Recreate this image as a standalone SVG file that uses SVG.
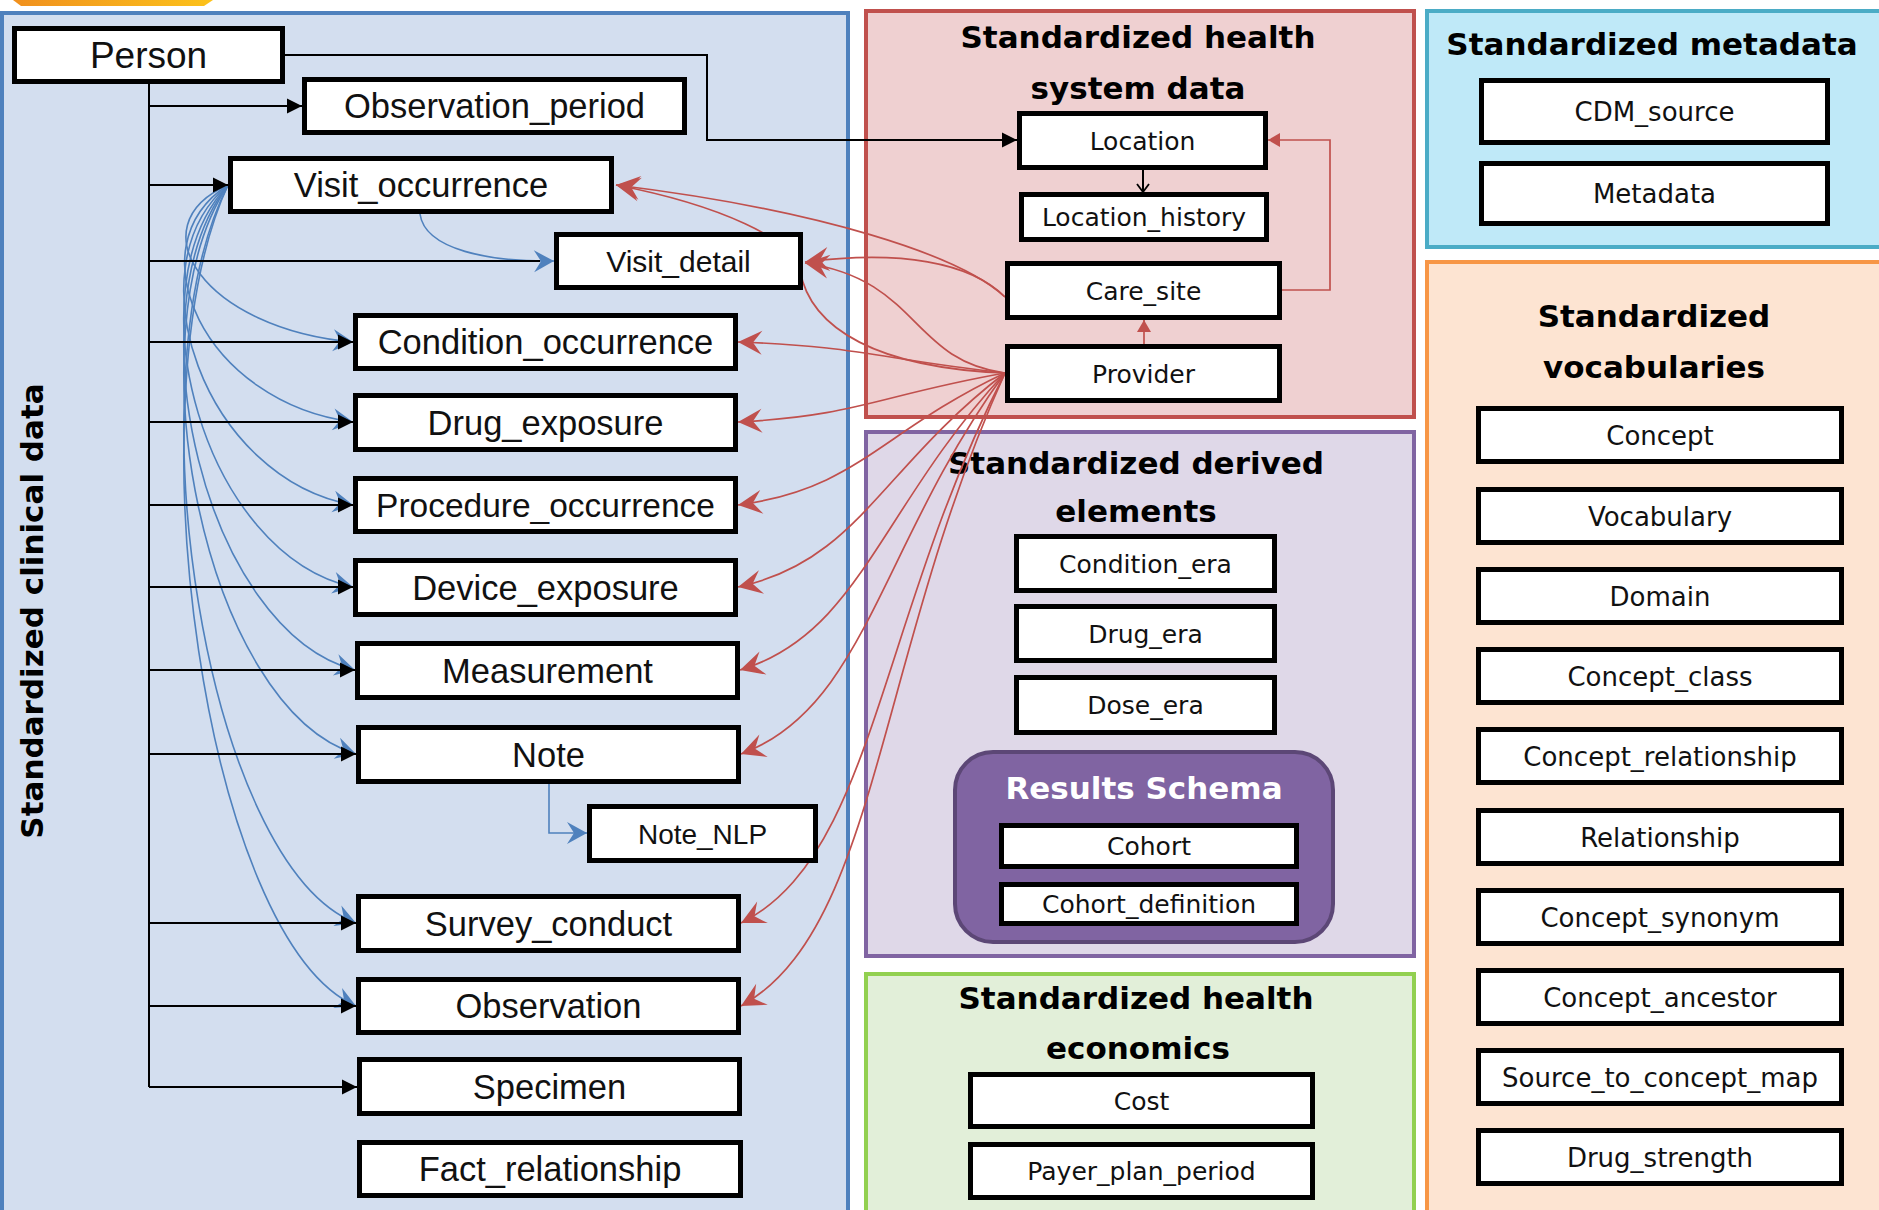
<svg xmlns="http://www.w3.org/2000/svg" width="1879" height="1210" viewBox="0 0 1879 1210">
<style>
.box{fill:#fff;stroke:#000;stroke-width:5}
.tc{font-family:'Liberation Sans',Arial,sans-serif;font-size:34.5px;text-anchor:middle;fill:#111}
.tr{font-family:'DejaVu Sans',Verdana,sans-serif;font-size:25px;text-anchor:middle;fill:#111}
.tv{font-family:'DejaVu Sans',Verdana,sans-serif;font-size:26px;text-anchor:middle;fill:#111}
.title{font-family:'DejaVu Sans',Verdana,sans-serif;font-weight:bold;font-size:31px;text-anchor:middle;fill:#000}
.blk{fill:none;stroke:#000;stroke-width:2}
.blu{fill:none;stroke:#4f81bd;stroke-width:1.6}
.red{fill:none;stroke:#c0504d;stroke-width:1.7}
</style>
<defs>
<linearGradient id="og" x1="0" y1="0" x2="1" y2="0">
<stop offset="0" stop-color="#f0901e"/><stop offset="1" stop-color="#fcc21b"/>
</linearGradient>
<marker id="aK" markerUnits="userSpaceOnUse" viewBox="-17 -9 18 18" markerWidth="18" markerHeight="18" refX="0" refY="0" orient="auto">
<path d="M0,0 L-15,-7.5 L-15,7.5 Z" fill="#000"/>
</marker>
<marker id="aO" markerUnits="userSpaceOnUse" viewBox="-11 -8 12 16" markerWidth="12" markerHeight="16" refX="0" refY="0" orient="auto">
<path d="M-8,-6 L0,0 L-8,6" fill="none" stroke="#000" stroke-width="1.8"/>
</marker>
<marker id="aR" markerUnits="userSpaceOnUse" viewBox="-26 -13 28 26" markerWidth="28" markerHeight="26" refX="0" refY="0" orient="auto">
<path d="M0,0 L-24,-12 L-15,0 L-24,12 Z" fill="#c0504d"/>
</marker>
<marker id="aRt" markerUnits="userSpaceOnUse" viewBox="-14 -8 15 16" markerWidth="15" markerHeight="16" refX="0" refY="0" orient="auto">
<path d="M0,0 L-12,-7 L-12,7 Z" fill="#c0504d"/>
</marker>
<marker id="aB" markerUnits="userSpaceOnUse" viewBox="-22 -12 24 24" markerWidth="24" markerHeight="24" refX="0" refY="0" orient="auto">
<path d="M0,0 L-20,-11 L-13,0 L-20,11 Z" fill="#4f81bd"/>
</marker>
</defs>
<rect width="1879" height="1210" fill="#fff"/>
<polygon points="13,0 213,0 204,6 21,6" fill="url(#og)"/>

<g id="panels">
<rect id="p-clinical" x="2" y="13" width="846" height="1210" fill="#d3deef" stroke="#4f81bd" stroke-width="4"/>
<rect id="p-health" x="866" y="11" width="548" height="406" fill="#efd0d1" stroke="#c0504d" stroke-width="4"/>
<rect id="p-derived" x="866" y="432" width="548" height="524" fill="#dfd8e8" stroke="#8064a2" stroke-width="4"/>
<rect id="p-econ" x="866" y="974" width="548" height="250" fill="#e2efd9" stroke="#92d050" stroke-width="4"/>
<rect id="p-meta" x="1427" y="11" width="460" height="236" fill="#bfe9f8" stroke="#4bacc6" stroke-width="4"/>
<rect id="p-vocab" x="1427" y="262" width="460" height="960" fill="#fde4d2" stroke="#f79646" stroke-width="4"/>
<text class="title" transform="translate(43,611) rotate(-90)">Standardized clinical data</text>
<text class="title" x="1138" y="48">Standardized health</text>
<text class="title" x="1138" y="99">system data</text>
<text class="title" x="1652" y="55">Standardized metadata</text>
<text class="title" x="1654" y="327">Standardized</text>
<text class="title" x="1654" y="378">vocabularies</text>
<text class="title" x="1136" y="474">Standardized derived</text>
<text class="title" x="1136" y="522">elements</text>
<text class="title" x="1136" y="1009">Standardized health</text>
<text class="title" x="1138" y="1059">economics</text>
<rect id="p-results" x="955" y="752" width="378" height="190" rx="38" fill="#8064a2" stroke="#5c4776" stroke-width="4"/>
<text class="title" x="1144" y="799" style="fill:#fff">Results Schema</text>
</g>

<g id="connectors">
<!-- blue: Visit_occurrence to events -->
<path class="blu" marker-end="url(#aB)" d="M228,185 C135,226 205,329 353,342"/>
<path class="blu" marker-end="url(#aB)" d="M228,185 C132,247 205,403 353,422"/>
<path class="blu" marker-end="url(#aB)" d="M228,185 C130,268 205,479 353,505"/>
<path class="blu" marker-end="url(#aB)" d="M228,185 C130,290 205,555 353,587"/>
<path class="blu" marker-end="url(#aB)" d="M228,185 C130,311 205,631 355,670"/>
<path class="blu" marker-end="url(#aB)" d="M228,185 C130,333 205,708 356,754"/>
<path class="blu" marker-end="url(#aB)" d="M228,185 C130,377 205,864 356,923"/>
<path class="blu" marker-end="url(#aB)" d="M228,185 C130,398 205,940 356,1006"/>
<path class="blu" marker-end="url(#aB)" d="M420,214 C425,250 490,262 554,261"/>
<path class="blu" marker-end="url(#aB)" d="M549,784 V833 H587"/>
<!-- black: Person trunk -->
<path class="blk" d="M149,84 V1087"/>
<path class="blk" marker-end="url(#aK)" d="M149,106 H302"/>
<path class="blk" marker-end="url(#aK)" d="M149,185 H228"/>
<path class="blk" d="M149,261 H540"/>
<path class="blk" marker-end="url(#aK)" d="M149,342 H353"/>
<path class="blk" marker-end="url(#aK)" d="M149,422 H353"/>
<path class="blk" marker-end="url(#aK)" d="M149,505 H353"/>
<path class="blk" marker-end="url(#aK)" d="M149,587 H353"/>
<path class="blk" marker-end="url(#aK)" d="M149,670 H355"/>
<path class="blk" marker-end="url(#aK)" d="M149,754 H356"/>
<path class="blk" marker-end="url(#aK)" d="M149,923 H356"/>
<path class="blk" marker-end="url(#aK)" d="M149,1006 H356"/>
<path class="blk" marker-end="url(#aK)" d="M149,1087 H357"/>
<path class="blk" marker-end="url(#aK)" d="M285,55 H707 V140 H1017"/>
<path class="blk" marker-end="url(#aO)" d="M1143,170 V192"/>
<!-- red: health system -->
<path class="red" marker-end="url(#aRt)" d="M1144,344 V320"/>
<path class="red" marker-end="url(#aRt)" d="M1282,290 H1330 V140 H1268"/>
<path class="red" marker-end="url(#aR)" d="M1005,297 C960,255 820,210 616,185"/>
<path class="red" marker-end="url(#aR)" d="M1005,297 C970,262 900,250 805,262"/>
<path class="red" marker-end="url(#aR)" d="M1005,373 C910,360 920,280 805,263"/>
<path class="red" marker-end="url(#aR)" d="M1005,373 C880,368 810,330 800,270 C795,240 720,205 616,185"/>
<path class="red" marker-end="url(#aR)" d="M1005,373 C880,359 858,346 738,342"/>
<path class="red" marker-end="url(#aR)" d="M1005,373 C880,395 858,416 738,422"/>
<path class="red" marker-end="url(#aR)" d="M1005,373 C880,432 858,489 738,505"/>
<path class="red" marker-end="url(#aR)" d="M1005,373 C880,469 858,561 738,587"/>
<path class="red" marker-end="url(#aR)" d="M1005,373 C880,507 860,634 740,670"/>
<path class="red" marker-end="url(#aR)" d="M1005,373 C880,544 866,708 741,754"/>
<path class="red" marker-end="url(#aR)" d="M1005,373 C878,620 874,857 741,923"/>
<path class="red" marker-end="url(#aR)" d="M1005,373 C876,658 878,930 741,1006"/>
</g>

<g id="n-person"><rect class="box" x="14.5" y="28.5" width="268" height="53"/><text class="tc" x="148.5" y="68" style="font-size:37px">Person</text></g>
<g id="n-observation_period"><rect class="box" x="304.5" y="79.5" width="380" height="53"/><text class="tc" x="494.5" y="118">Observation_period</text></g>
<g id="n-visit_occurrence"><rect class="box" x="230.5" y="158.5" width="381" height="53"/><text class="tc" x="421" y="197">Visit_occurrence</text></g>
<g id="n-visit_detail"><rect class="box" x="556.5" y="234.5" width="244" height="53"/><text class="tc" x="678.5" y="271.5" style="font-size:30px">Visit_detail</text></g>
<g id="n-condition_occurrence"><rect class="box" x="355.5" y="315.5" width="380" height="53"/><text class="tc" x="545.5" y="354">Condition_occurrence</text></g>
<g id="n-drug_exposure"><rect class="box" x="355.5" y="395.5" width="380" height="54"/><text class="tc" x="545.5" y="434.5">Drug_exposure</text></g>
<g id="n-procedure_occurrence"><rect class="box" x="355.5" y="478.5" width="380" height="53"/><text class="tc" x="545.5" y="517" style="font-size:33.5px">Procedure_occurrence</text></g>
<g id="n-device_exposure"><rect class="box" x="355.5" y="560.5" width="380" height="54"/><text class="tc" x="545.5" y="599.5">Device_exposure</text></g>
<g id="n-measurement"><rect class="box" x="357.5" y="643.5" width="380" height="54"/><text class="tc" x="547.5" y="682.5">Measurement</text></g>
<g id="n-note"><rect class="box" x="358.5" y="727.5" width="380" height="54"/><text class="tc" x="548.5" y="766.5">Note</text></g>
<g id="n-note_nlp"><rect class="box" x="589.5" y="806.5" width="226" height="54"/><text class="tc" x="702.5" y="843.5" style="font-size:28px">Note_NLP</text></g>
<g id="n-survey_conduct"><rect class="box" x="358.5" y="896.5" width="380" height="54"/><text class="tc" x="548.5" y="935.5">Survey_conduct</text></g>
<g id="n-observation"><rect class="box" x="358.5" y="979.5" width="380" height="53"/><text class="tc" x="548.5" y="1018">Observation</text></g>
<g id="n-specimen"><rect class="box" x="359.5" y="1059.5" width="380" height="54"/><text class="tc" x="549.5" y="1098.5">Specimen</text></g>
<g id="n-fact_relationship"><rect class="box" x="359.5" y="1142.5" width="381" height="53"/><text class="tc" x="550" y="1181">Fact_relationship</text></g>

<g id="n-location"><rect class="box" x="1019.5" y="113.5" width="246" height="54"/><text class="tr" x="1142.5" y="149.5">Location</text></g>
<g id="n-location_history"><rect class="box" x="1021.5" y="194.5" width="245" height="45"/><text class="tr" x="1144" y="226">Location_history</text></g>
<g id="n-care_site"><rect class="box" x="1007.5" y="263.5" width="272" height="54"/><text class="tr" x="1143.5" y="299.5">Care_site</text></g>
<g id="n-provider"><rect class="box" x="1007.5" y="346.5" width="272" height="54"/><text class="tr" x="1143.5" y="382.5">Provider</text></g>

<g id="n-cdm_source"><rect class="box" x="1481.5" y="80.5" width="346" height="62"/><text class="tv" x="1654.5" y="121">CDM_source</text></g>
<g id="n-metadata"><rect class="box" x="1481.5" y="163.5" width="346" height="60"/><text class="tv" x="1654.5" y="203">Metadata</text></g>

<g id="n-concept"><rect class="box" x="1478.5" y="408.5" width="363" height="53"/><text class="tv" x="1660" y="444.5">Concept</text></g>
<g id="n-vocabulary"><rect class="box" x="1478.5" y="489.5" width="363" height="53"/><text class="tv" x="1660" y="525.5">Vocabulary</text></g>
<g id="n-domain"><rect class="box" x="1478.5" y="569.5" width="363" height="53"/><text class="tv" x="1660" y="605.5">Domain</text></g>
<g id="n-concept_class"><rect class="box" x="1478.5" y="649.5" width="363" height="53"/><text class="tv" x="1660" y="685.5">Concept_class</text></g>
<g id="n-concept_relationship"><rect class="box" x="1478.5" y="729.5" width="363" height="53"/><text class="tv" x="1660" y="765.5">Concept_relationship</text></g>
<g id="n-relationship"><rect class="box" x="1478.5" y="810.5" width="363" height="53"/><text class="tv" x="1660" y="846.5">Relationship</text></g>
<g id="n-concept_synonym"><rect class="box" x="1478.5" y="890.5" width="363" height="53"/><text class="tv" x="1660" y="926.5">Concept_synonym</text></g>
<g id="n-concept_ancestor"><rect class="box" x="1478.5" y="970.5" width="363" height="53"/><text class="tv" x="1660" y="1006.5">Concept_ancestor</text></g>
<g id="n-source_to_concept_map"><rect class="box" x="1478.5" y="1050.5" width="363" height="53"/><text class="tv" x="1660" y="1086.5">Source_to_concept_map</text></g>
<g id="n-drug_strength"><rect class="box" x="1478.5" y="1130.5" width="363" height="53"/><text class="tv" x="1660" y="1166.5">Drug_strength</text></g>

<g id="n-condition_era"><rect class="box" x="1016.5" y="536.5" width="258" height="54"/><text class="tr" x="1145.5" y="572.5">Condition_era</text></g>
<g id="n-drug_era"><rect class="box" x="1016.5" y="606.5" width="258" height="54"/><text class="tr" x="1145.5" y="642.5">Drug_era</text></g>
<g id="n-dose_era"><rect class="box" x="1016.5" y="677.5" width="258" height="55"/><text class="tr" x="1145.5" y="714">Dose_era</text></g>
<g id="n-cohort"><rect class="box" x="1001.5" y="825.5" width="295" height="41"/><text class="tr" x="1149" y="855">Cohort</text></g>
<g id="n-cohort_definition"><rect class="box" x="1001.5" y="884.5" width="295" height="39"/><text class="tr" x="1149" y="913">Cohort_definition</text></g>

<g id="n-cost"><rect class="box" x="970.5" y="1074.5" width="342" height="52"/><text class="tr" x="1141.5" y="1109.5">Cost</text></g>
<g id="n-payer_plan_period"><rect class="box" x="970.5" y="1144.5" width="342" height="53"/><text class="tr" x="1141.5" y="1180">Payer_plan_period</text></g>
</svg>
